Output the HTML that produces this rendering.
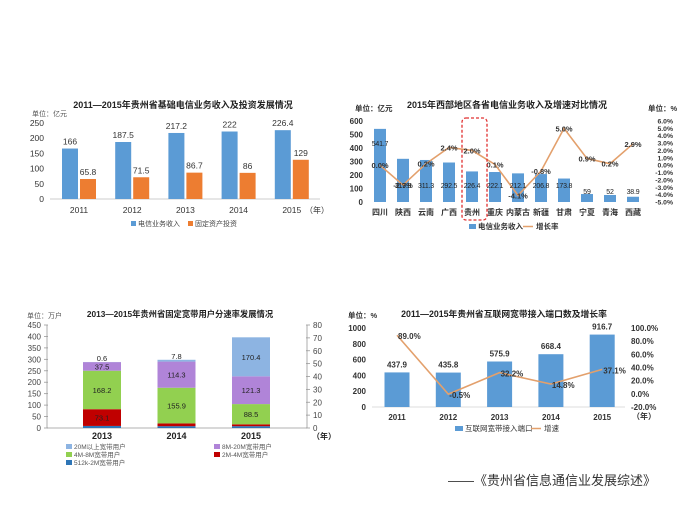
<!DOCTYPE html>
<html><head><meta charset="utf-8">
<style>
html,body{margin:0;padding:0;background:#fff;}
svg{display:block;font-family:"Liberation Sans","Noto Sans CJK SC",sans-serif;}
</style></head>
<body>
<svg id="s" width="700" height="525" viewBox="0 0 700 525" xmlns="http://www.w3.org/2000/svg">
<text x="183" y="108" font-size="9" font-weight="bold" text-anchor="middle" fill="#222">2011—2015年贵州省基础电信业务收入及投资发展情况</text>
<text x="32" y="116" font-size="7" fill="#555">单位：亿元</text>
<text x="507" y="108" font-size="9" font-weight="bold" text-anchor="middle" fill="#222">2015年西部地区各省电信业务收入及增速对比情况</text>
<text x="355" y="111" font-size="7.5" font-weight="bold" fill="#333">单位：亿元</text>
<text x="648" y="111" font-size="7.5" font-weight="bold" fill="#333">单位：%</text>
<text x="180" y="317" font-size="8.3" font-weight="bold" text-anchor="middle" fill="#222">2013—2015年贵州省固定宽带用户分速率发展情况</text>
<text x="27" y="318" font-size="7" fill="#555">单位：万户</text>
<text x="504" y="317" font-size="8.8" font-weight="bold" text-anchor="middle" fill="#222">2011—2015年贵州省互联网宽带接入端口数及增长率</text>
<text x="348" y="318" font-size="7.5" font-weight="bold" fill="#333">单位：%</text>
<text x="448" y="485" font-size="13" fill="#333">——《贵州省信息通信业发展综述》</text>
</svg>
<script>
// ---- Chart 1 data
const c1Years = ['2011','2012','2013','2014','2015'];
const c1Revenue = [166, 187.5, 217.2, 222, 226.4];
const c1Invest = [65.8, 71.5, 86.7, 86, 129];
const c1Ticks = [0, 50, 100, 150, 200, 250];
// ---- Chart 2 data
const c2Provinces = ['四川','陕西','云南','广西','贵州','重庆','内蒙古','新疆','甘肃','宁夏','青海','西藏'];
const c2Revenue = [541.7, 319.9, 311.3, 292.5, 226.4, 222.1, 212.1, 206.8, 173.8, 59, 52, 38.9];
const c2Growth = [0.0, -2.7, 0.2, 2.4, 2.0, 0.1, -4.1, -0.8, 5.0, 0.9, 0.2, 2.9];
const c2LeftTicks = [0, 100, 200, 300, 400, 500, 600];
const c2RightTicks = [-5, -4, -3, -2, -1, 0, 1, 2, 3, 4, 5, 6];
// ---- Chart 3 data
const c3Years = ['2013','2014','2015'];
const c3Seg512k = [9, 8, 8];
const c3Seg2M = [73.1, 12, 8];
const c3Seg4M = [168.2, 155.9, 88.5];
const c3Seg8M = [37.5, 114.3, 121.3];
const c3Seg20M = [0.6, 7.8, 170.4];
const c3LeftTicks = [0, 50, 100, 150, 200, 250, 300, 350, 400, 450];
const c3RightTicks = [0, 10, 20, 30, 40, 50, 60, 70, 80];
// ---- Chart 4 data
const c4Years = ['2011','2012','2013','2014','2015'];
const c4Ports = [437.9, 435.8, 575.9, 668.4, 916.7];
const c4Growth = [89.0, -0.5, 32.2, 14.8, 37.1];
const c4LeftTicks = [0, 200, 400, 600, 800, 1000];
const c4RightTicks = [-20, 0, 20, 40, 60, 80, 100];

const svg = document.getElementById('s');
const NS = 'http://www.w3.org/2000/svg';
function mk(tag, attrs, txt) {
  const e = document.createElementNS(NS, tag);
  for (const k in attrs) e.setAttribute(k, attrs[k]);
  if (txt !== undefined) e.textContent = txt;
  svg.appendChild(e);
  return e;
}

// ================= Chart 1 =================
const c1y = v => 199 - v * 76 / 250;
const c1x = i => 79 + i * 53.2;
c1Ticks.forEach(t => {
  const e = mk('text', {x: 44, y: c1y(t) + 3, 'font-size': 8.5, 'text-anchor': 'end', fill: '#333'}, String(t));
  
  
});
{
  const e = mk('line', {x1: 50, x2: 320, y1: 199, y2: 199, stroke: '#ccc', 'stroke-width': 1});
  
  
}
c1Years.forEach((yr, i) => {
  const cx = c1x(i);
  const b = mk('rect', {x: cx - 17, y: c1y(c1Revenue[i]), width: 16, height: 199 - c1y(c1Revenue[i]), fill: '#5b9bd5'});
  
  
  const o = mk('rect', {x: cx + 1, y: c1y(c1Invest[i]), width: 16, height: 199 - c1y(c1Invest[i]), fill: '#ed7d31'});
  
  
  const l1 = mk('text', {x: cx - 9, y: c1y(c1Revenue[i]) - 4, 'font-size': 8.5, 'text-anchor': 'middle', fill: '#333'}, String(c1Revenue[i]));
  
  
  const l2 = mk('text', {x: cx + 9, y: c1y(c1Invest[i]) - 4, 'font-size': 8.5, 'text-anchor': 'middle', fill: '#333'}, String(c1Invest[i]));
  
  
  const xl = mk('text', {x: cx, y: 213, 'font-size': 8.5, 'text-anchor': 'middle', fill: '#333'}, yr);
  
  
});
{
  const e = mk('text', {x: 305, y: 213, 'font-size': 8, fill: '#333'}, '（年）');
  
  
  const s1 = mk('rect', {x: 131, y: 221, width: 5, height: 5, fill: '#5b9bd5'});
  
  
  const t1 = mk('text', {x: 138, y: 226, 'font-size': 7, fill: '#444'}, '电信业务收入');
  
  
  const s2 = mk('rect', {x: 188, y: 221, width: 5, height: 5, fill: '#ed7d31'});
  
  
  const t2 = mk('text', {x: 195, y: 226, 'font-size': 7, fill: '#444'}, '固定资产投资');
  
  
}

// ================= Chart 2 =================
const c2yL = v => 202 - v * 81 / 600;
const c2yR = p => 202 - (p + 5) * 81 / 11;
const c2x = i => 380 + i * 23.0;
c2LeftTicks.forEach(t => {
  const e = mk('text', {x: 363, y: c2yL(t) + 3, 'font-size': 8, 'font-weight': 'bold', 'text-anchor': 'end', fill: '#333'}, String(t));
  
  
});
c2RightTicks.forEach(t => {
  const e = mk('text', {x: 673, y: c2yR(t) + 2.5, 'font-size': 6.8, 'font-weight': 'bold', 'text-anchor': 'end', fill: '#333'}, t.toFixed(1) + '%');
  
  
});
c2Provinces.forEach((p, i) => {
  const cx = c2x(i);
  const b = mk('rect', {x: cx - 6, y: c2yL(c2Revenue[i]), width: 12, height: 202 - c2yL(c2Revenue[i]), fill: '#5b9bd5'});
  
  
  const xl = mk('text', {x: cx, y: 215, 'font-size': 8, 'font-weight': 'bold', 'text-anchor': 'middle', fill: '#333'}, p);
  
  
});
{
  const pts = c2Growth.map((g, i) => c2x(i) + ',' + c2yR(g)).join(' ');
  const e = mk('polyline', {points: pts, fill: 'none', stroke: '#e3a06c', 'stroke-width': 1.6});
  
  
}
c2Provinces.forEach((p, i) => {
  const v = c2Revenue[i];
  const ly = v > 400 ? c2yL(v) + 17 : (v > 100 ? 188 : 194);
  const l = mk('text', {x: c2x(i), y: ly, 'font-size': 7, 'letter-spacing': '-0.2', 'text-anchor': 'middle', fill: '#222'}, String(v));
  
  
  const g = mk('text', {x: c2x(i), y: c2yR(c2Growth[i]) + 3, 'font-size': 7.5, 'font-weight': 'bold', 'text-anchor': 'middle', fill: '#333'}, c2Growth[i].toFixed(1) + '%');
  
  
});
{
  const e = mk('rect', {x: 462, y: 118, width: 25, height: 102, rx: 4, fill: 'none', stroke: '#e03030', 'stroke-width': 1.3, 'stroke-dasharray': '3,2'});
  
  
  const s1 = mk('rect', {x: 469, y: 224, width: 7, height: 5, fill: '#5b9bd5'});
  
  
  const t1 = mk('text', {x: 478, y: 229, 'font-size': 7.5, 'font-weight': 'bold', fill: '#333'}, '电信业务收入');
  
  
  const s2 = mk('line', {x1: 523, x2: 533, y1: 226.5, y2: 226.5, stroke: '#e3a06c', 'stroke-width': 1.5});
  
  
  const t2 = mk('text', {x: 536, y: 229, 'font-size': 7.5, 'font-weight': 'bold', fill: '#333'}, '增长率');
  
  
}

// ================= Chart 3 =================
const c3y = v => 428 - v * 103 / 450;
const c3yR = v => 428 - v * 103 / 80;
const c3x = i => 102 + i * 74.5;
c3LeftTicks.forEach(t => {
  const e = mk('text', {x: 41, y: c3y(t) + 3, 'font-size': 8, 'text-anchor': 'end', fill: '#444'}, String(t));
  
  
  const m = mk('line', {x1: 44, x2: 48, y1: c3y(t), y2: c3y(t), stroke: '#999', 'stroke-width': 0.8});
  
  
});
c3RightTicks.forEach(t => {
  const e = mk('text', {x: 313, y: c3yR(t) + 3, 'font-size': 8, fill: '#444'}, String(t));
  
  
  const m = mk('line', {x1: 306, x2: 310, y1: c3yR(t), y2: c3yR(t), stroke: '#999', 'stroke-width': 0.8});
  
  
});
{
  const a = mk('line', {x1: 47, x2: 47, y1: 325, y2: 428, stroke: '#999', 'stroke-width': 0.8});
  
  
  const b = mk('line', {x1: 307, x2: 307, y1: 325, y2: 428, stroke: '#999', 'stroke-width': 0.8});
  
  
  const c = mk('line', {x1: 47, x2: 307, y1: 428, y2: 428, stroke: '#999', 'stroke-width': 0.8});
  
  
}
const c3Series = [c3Seg512k, c3Seg2M, c3Seg4M, c3Seg8M, c3Seg20M];
const c3Colors = ['#2e75b6', '#c00000', '#92d050', '#b084d8', '#8db4e2'];
c3Years.forEach((yr, i) => {
  let base = 0;
  c3Series.forEach((ser, k) => {
    const v = ser[i];
    const r = mk('rect', {x: c3x(i) - 19, y: c3y(base + v), width: 38, height: c3y(base) - c3y(base + v), fill: c3Colors[k]});
    
    
    base += v;
  });
  const xl = mk('text', {x: c3x(i), y: 439, 'font-size': 9, 'font-weight': 'bold', 'text-anchor': 'middle', fill: '#222'}, yr);
  
  
});
c3Years.forEach((yr, i) => {
  let base = 0;
  c3Series.forEach((ser, k) => {
    const v = ser[i];
    let ly = (c3y(base) + c3y(base + v)) / 2 + 3;
    if (k === 4 && v < 20) ly = c3y(base + v) - 1;
    if (k === 0) { base += v; return; }
    if (k === 1 && v < 20) { base += v; return; }
    const t = mk('text', {x: c3x(i), y: ly, 'font-size': 7.5, 'text-anchor': 'middle', fill: '#222'}, String(v));
    
    
    base += v;
  });
});
{
  const e = mk('text', {x: 312, y: 439, 'font-size': 8, 'font-weight': 'bold', fill: '#222'}, '（年）');
  
  
}
const c3Legend = [
  ['20M以上宽带用户', '#8db4e2', 66, 449], ['8M-20M宽带用户', '#b084d8', 214, 449],
  ['4M-8M宽带用户', '#92d050', 66, 457], ['2M-4M宽带用户', '#c00000', 214, 457],
  ['512k-2M宽带用户', '#2e75b6', 66, 465]
];
c3Legend.forEach(l => {
  const s = mk('rect', {x: l[2], y: l[3] - 5, width: 6, height: 5, fill: l[1]});
  
  
  const t = mk('text', {x: l[2] + 8, y: l[3], 'font-size': 6.5, fill: '#555'}, l[0]);
  
  
});

// ================= Chart 4 =================
const c4yL = v => 407 - v * 79 / 1000;
const c4yR = p => 407 - (p + 20) * 79 / 120;
const c4x = i => 397 + i * 51.3;
c4LeftTicks.forEach(t => {
  const e = mk('text', {x: 366, y: c4yL(t) + 3, 'font-size': 8, 'font-weight': 'bold', 'text-anchor': 'end', fill: '#333'}, String(t));
  
  
});
c4RightTicks.forEach(t => {
  const e = mk('text', {x: 631, y: c4yR(t) + 3, 'font-size': 8, 'font-weight': 'bold', fill: '#333'}, t.toFixed(1) + '%');
  
  
});
{
  const e = mk('line', {x1: 372, x2: 625, y1: 407, y2: 407, stroke: '#ddd', 'stroke-width': 1});
  
  
}
c4Years.forEach((yr, i) => {
  const cx = c4x(i);
  const b = mk('rect', {x: cx - 12.5, y: c4yL(c4Ports[i]), width: 25, height: 407 - c4yL(c4Ports[i]), fill: '#5b9bd5'});
  
  
  const l = mk('text', {x: cx, y: c4yL(c4Ports[i]) - 5, 'font-size': 8, 'font-weight': 'bold', 'text-anchor': 'middle', fill: '#333'}, String(c4Ports[i]));
  
  
  const xl = mk('text', {x: cx, y: 420, 'font-size': 8, 'font-weight': 'bold', 'text-anchor': 'middle', fill: '#333'}, yr);
  
  
});
{
  const pts = c4Growth.map((g, i) => c4x(i) + ',' + c4yR(g)).join(' ');
  const e = mk('polyline', {points: pts, fill: 'none', stroke: '#e3a06c', 'stroke-width': 1.6});
  
  
}
c4Growth.forEach((g, i) => {
  const t = mk('text', {x: c4x(i) + 1, y: c4yR(g) + 4, 'font-size': 8, 'font-weight': 'bold', fill: '#333'}, g.toFixed(1) + '%');
  
  
});
{
  const e = mk('text', {x: 632, y: 419, 'font-size': 8, 'font-weight': 'bold', fill: '#333'}, '（年）');
  
  
  const s1 = mk('rect', {x: 455, y: 426, width: 8, height: 5, fill: '#5b9bd5'});
  
  
  const t1 = mk('text', {x: 465, y: 431, 'font-size': 7.5, fill: '#333'}, '互联网宽带接入端口');
  
  
  const s2 = mk('line', {x1: 531, x2: 541, y1: 428.5, y2: 428.5, stroke: '#e3a06c', 'stroke-width': 1.5});
  
  
  const t2 = mk('text', {x: 544, y: 431, 'font-size': 7.5, fill: '#333'}, '增速');
  
  
}
</script>
</body></html>
